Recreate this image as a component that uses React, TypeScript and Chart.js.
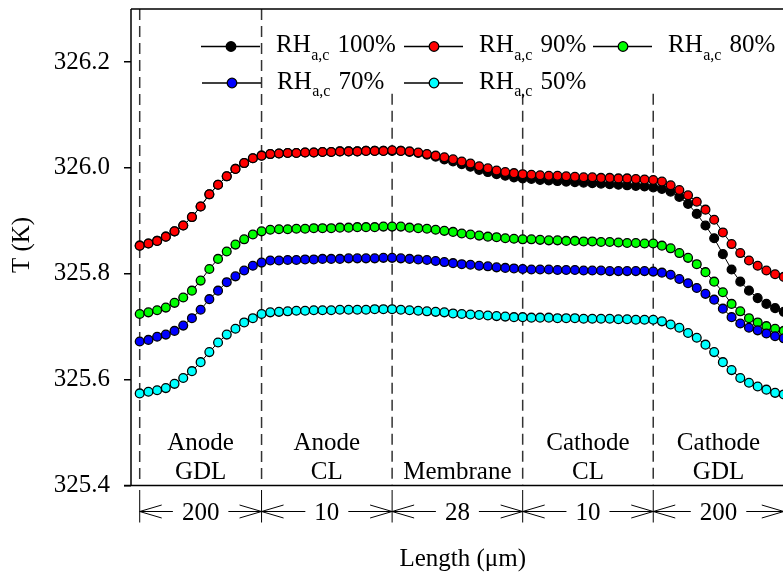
import { useEffect, useRef } from "react";
import { Chart, registerables } from "chart.js";

Chart.register(...registerables);

// Temperature profiles (K) across the MEA, sampled at evenly spaced positions
const rh100 = [
  325.853, 325.857, 325.862, 325.870, 325.880, 325.891, 325.907, 325.927, 325.950, 325.968,
  325.984, 325.998, 326.009, 326.018, 326.023, 326.026, 326.027, 326.028, 326.028, 326.029,
  326.029, 326.030, 326.030, 326.031, 326.031, 326.031, 326.032, 326.032, 326.032, 326.032,
  326.032, 326.030, 326.028, 326.025, 326.021, 326.016, 326.012, 326.007, 326.002, 325.996,
  325.992, 325.988, 325.985, 325.982, 325.980, 325.979, 325.977, 325.976, 325.975, 325.974,
  325.973, 325.972, 325.971, 325.970, 325.969, 325.968, 325.967, 325.966, 325.965, 325.963,
  325.960, 325.955, 325.945, 325.932, 325.913, 325.891, 325.867, 325.837, 325.808, 325.785,
  325.768, 325.754, 325.743, 325.735, 325.728,
];
const rh90 = [
  325.853, 325.857, 325.862, 325.870, 325.880, 325.891, 325.907, 325.927, 325.950, 325.968,
  325.984, 325.998, 326.009, 326.018, 326.023, 326.026, 326.027, 326.028, 326.028, 326.029,
  326.029, 326.030, 326.030, 326.031, 326.031, 326.031, 326.032, 326.032, 326.032, 326.033,
  326.032, 326.031, 326.029, 326.026, 326.023, 326.020, 326.016, 326.012, 326.008, 326.003,
  325.999, 325.995, 325.992, 325.990, 325.988, 325.987, 325.986, 325.985, 325.985, 325.984,
  325.983, 325.982, 325.982, 325.981, 325.981, 325.980, 325.980, 325.979, 325.978, 325.977,
  325.974, 325.967, 325.958, 325.948, 325.936, 325.921, 325.902, 325.878, 325.856, 325.839,
  325.825, 325.815, 325.806, 325.799, 325.794,
];
const rh80 = [
  325.724, 325.727, 325.731, 325.736, 325.745, 325.755, 325.768, 325.787, 325.809, 325.828,
  325.842, 325.855, 325.865, 325.874, 325.880, 325.883, 325.884, 325.884, 325.885, 325.885,
  325.886, 325.886, 325.886, 325.887, 325.887, 325.888, 325.888, 325.888, 325.889, 325.889,
  325.889, 325.887, 325.886, 325.885, 325.883, 325.881, 325.879, 325.876, 325.874, 325.872,
  325.870, 325.869, 325.867, 325.866, 325.865, 325.865, 325.864, 325.863, 325.863, 325.862,
  325.862, 325.861, 325.861, 325.860, 325.860, 325.859, 325.858, 325.858, 325.857, 325.857,
  325.853, 325.848, 325.839, 325.830, 325.818, 325.803, 325.785, 325.765, 325.743, 325.729,
  325.716, 325.708, 325.701, 325.696, 325.692,
];
const rh70 = [
  325.672, 325.675, 325.681, 325.685, 325.692, 325.702, 325.716, 325.732, 325.752, 325.768,
  325.784, 325.795, 325.806, 325.815, 325.821, 325.825, 325.825, 325.826, 325.826, 325.827,
  325.827, 325.828, 325.828, 325.828, 325.829, 325.829, 325.829, 325.829, 325.830, 325.830,
  325.829, 325.828, 325.827, 325.826, 325.824, 325.822, 325.820, 325.818, 325.817, 325.815,
  325.814, 325.812, 325.811, 325.810, 325.809, 325.808, 325.808, 325.808, 325.807, 325.807,
  325.807, 325.806, 325.806, 325.806, 325.805, 325.805, 325.805, 325.805, 325.805, 325.804,
  325.802, 325.798, 325.790, 325.782, 325.773, 325.762, 325.751, 325.734, 325.718, 325.706,
  325.698, 325.693, 325.687, 325.682, 325.678,
];
const rh50 = [
  325.574, 325.577, 325.580, 325.584, 325.592, 325.603, 325.616, 325.633, 325.652, 325.670,
  325.685, 325.696, 325.708, 325.716, 325.724, 325.727, 325.728, 325.729, 325.730, 325.730,
  325.731, 325.731, 325.731, 325.732, 325.732, 325.732, 325.732, 325.733, 325.733, 325.733,
  325.732, 325.731, 325.730, 325.729, 325.728, 325.727, 325.725, 325.724, 325.723, 325.722,
  325.721, 325.720, 325.719, 325.718, 325.718, 325.717, 325.717, 325.717, 325.716, 325.716,
  325.716, 325.715, 325.715, 325.715, 325.715, 325.714, 325.714, 325.713, 325.713, 325.713,
  325.710, 325.704, 325.698, 325.688, 325.679, 325.666, 325.652, 325.633, 325.618, 325.603,
  325.594, 325.587, 325.581, 325.575, 325.572,
];

const SERIES_VALUES = [rh100, rh90, rh80, rh70, rh50];
const SERIES_PERCENT = ["100%", "90%", "80%", "70%", "50%"];
const SERIES_COLORS = ["#000000", "#ff0000", "#00ff00", "#0000ff", "#00ffff"];

// Layer boundaries, expressed as sample indices along the profile
const LAYER_EDGES = [0, 14, 29, 44, 59, 74];
const LAYER_NAMES = [["Anode", "GDL"], ["Anode", "CL"], ["Membrane"], ["Cathode", "CL"], ["Cathode", "GDL"]];
const LAYER_THICKNESS = ["200", "10", "28", "10", "200"];

const Y_TICKS = [325.4, 325.6, 325.8, 326.0, 326.2];
const Y_MIN = 325.4;
const Y_MAX = 326.3;
const X_MIN = -1;
const X_MAX = 75;

const FONT = "'Liberation Serif', 'Times New Roman', Times, serif";
const FONT_SIZE = 25;
const DIVIDER_TOP = 326.14; // the inner dividers start below the legend

// legend slots: marker centre (px)
const LEGEND_SLOTS = [
  [231, 46.5],
  [434, 46.5],
  [623, 46.5],
  [232, 83],
  [434, 83],
];

const decorPlugin = {
  id: "mea-decor",
  beforeDatasetsDraw(chart: any) {
    const { ctx, chartArea: ca, scales } = chart;
    const xs = scales.x;
    const ys = scales.y;
    ctx.save();
    ctx.strokeStyle = "#333333";
    ctx.lineWidth = 1.5;
    ctx.setLineDash([11, 6]);
    LAYER_EDGES.forEach((e, k) => {
      const px = xs.getPixelForValue(e);
      const top = k < 2 ? ca.top : ys.getPixelForValue(DIVIDER_TOP);
      ctx.beginPath();
      ctx.moveTo(px, top);
      ctx.lineTo(px, ca.bottom);
      ctx.stroke();
    });
    ctx.restore();
  },
  afterDraw(chart: any) {
    const { ctx, chartArea: ca, scales } = chart;
    const xs = scales.x;
    const W = chart.width;
    ctx.save();
    ctx.setLineDash([]);

    // frame
    ctx.strokeStyle = "#000";
    ctx.lineWidth = 1.5;
    ctx.beginPath();
    ctx.moveTo(ca.left, ca.top);
    ctx.lineTo(W, ca.top);
    ctx.moveTo(ca.left, ca.top);
    ctx.lineTo(ca.left, ca.bottom);
    ctx.moveTo(ca.left - 7, ca.bottom);
    ctx.lineTo(W, ca.bottom);
    ctx.stroke();

    ctx.fillStyle = "#000";
    ctx.textAlign = "center";
    ctx.textBaseline = "alphabetic";
    ctx.font = `${FONT_SIZE}px ${FONT}`;

    const edgePx = LAYER_EDGES.map((e) => xs.getPixelForValue(e));

    // layer names inside the plot
    LAYER_NAMES.forEach((lines, k) => {
      const cx = (edgePx[k] + edgePx[k + 1]) / 2;
      const base = ca.bottom - 6.5;
      lines.forEach((t, j) => {
        ctx.fillText(t, cx, base - (lines.length - 1 - j) * 29);
      });
    });

    // thickness dimension lines below the axis
    const yA = ca.bottom + 26;
    ctx.lineWidth = 1;
    ctx.beginPath();
    edgePx.forEach((px) => {
      ctx.moveTo(px, ca.bottom + 4.5);
      ctx.lineTo(px, ca.bottom + 37);
    });
    ctx.stroke();
    LAYER_THICKNESS.forEach((t, k) => {
      const x0 = edgePx[k];
      const x1 = edgePx[k + 1];
      const cx = (x0 + x1) / 2;
      const w = ctx.measureText(t).width;
      const gap = 9;
      ctx.fillText(t, cx, yA + 8.5);
      ctx.beginPath();
      ctx.moveTo(x0, yA);
      ctx.lineTo(cx - w / 2 - gap, yA);
      ctx.moveTo(cx + w / 2 + gap, yA);
      ctx.lineTo(x1, yA);
      ctx.moveTo(x0 + 22, yA - 6.5);
      ctx.lineTo(x0, yA);
      ctx.lineTo(x0 + 22, yA + 6.5);
      ctx.moveTo(x1 - 22, yA - 6.5);
      ctx.lineTo(x1, yA);
      ctx.lineTo(x1 - 22, yA + 6.5);
      ctx.stroke();
    });

    // axis titles
    ctx.fillText("Length (\u03bcm)", (ca.left + ca.right) / 2 + 1, 566);
    ctx.save();
    ctx.translate(22, 245);
    ctx.rotate(-Math.PI / 2);
    ctx.textBaseline = "middle";
    ctx.fillText("T (K)", 0, 0);
    ctx.restore();

    // legend
    ctx.textAlign = "left";
    SERIES_PERCENT.forEach((pct, i) => {
      const [mx, my] = LEGEND_SLOTS[i];
      ctx.strokeStyle = "#000";
      ctx.lineWidth = 1.3;
      ctx.beginPath();
      ctx.moveTo(mx - 30, my);
      ctx.lineTo(mx + 29, my);
      ctx.stroke();
      ctx.beginPath();
      ctx.arc(mx, my, 4.8, 0, Math.PI * 2);
      ctx.fillStyle = SERIES_COLORS[i];
      ctx.fill();
      ctx.lineWidth = 1.3;
      ctx.stroke();

      ctx.fillStyle = "#000";
      let tx = mx + 45;
      ctx.font = `${FONT_SIZE}px ${FONT}`;
      ctx.fillText("RH", tx, my + 5.5);
      tx += ctx.measureText("RH").width + 0.5;
      ctx.font = `16px ${FONT}`;
      ctx.fillText("a,c", tx, my + 13);
      tx += ctx.measureText("a,c").width + 8;
      ctx.font = `${FONT_SIZE}px ${FONT}`;
      ctx.fillText(pct, tx, my + 5.5);
    });

    ctx.restore();
  },
};

export default function App() {
  const canvasRef = useRef<HTMLCanvasElement | null>(null);

  useEffect(() => {
    const canvas = canvasRef.current;
    if (!canvas) return;

    const datasets = SERIES_VALUES.map((values, i) => ({
      label: `RH ${SERIES_PERCENT[i]}`,
      data: values.map((v, j) => ({ x: j, y: v })),
      borderColor: "#000",
      borderWidth: 1,
      pointBackgroundColor: SERIES_COLORS[i],
      pointBorderColor: "#000",
      pointBorderWidth: 1.3,
      pointRadius: 4.4,
      pointHoverRadius: 4.4,
      tension: 0,
      fill: false,
      order: SERIES_VALUES.length - i,
    }));

    const chart = new Chart(canvas, {
      type: "line",
      data: { datasets },
      plugins: [decorPlugin],
      options: {
        animation: false,
        responsive: false,
        devicePixelRatio: 1,
        layout: { padding: { left: 0, top: 9, right: 7.5, bottom: 90.5 } },
        plugins: {
          legend: { display: false },
          tooltip: { enabled: false },
        },
        events: [],
        scales: {
          x: {
            type: "linear",
            display: false,
            min: X_MIN,
            max: X_MAX,
          },
          y: {
            type: "linear",
            min: Y_MIN,
            max: Y_MAX,
            afterBuildTicks: (axis: any) => {
              axis.ticks = Y_TICKS.map((v) => ({ value: v }));
            },
            afterFit: (axis: any) => {
              axis.width = 131;
              axis.paddingTop = 0;
              axis.paddingBottom = 0;
            },
            ticks: {
              color: "#000",
              padding: 14,
              font: { family: FONT, size: FONT_SIZE },
              callback: (v: any) => Number(v).toFixed(1),
            },
            grid: {
              display: true,
              drawOnChartArea: false,
              drawTicks: true,
              tickLength: 7,
              color: "#000",
              lineWidth: 1.5,
            },
            border: { display: false },
          },
        },
      } as any,
    });

    return () => chart.destroy();
  }, []);

  return (
    <div
      style={{
        position: "fixed",
        left: 0,
        top: 0,
        width: 783,
        height: 576,
        overflow: "hidden",
        background: "#fff",
      }}
    >
      <canvas ref={canvasRef} width={800} height={576} style={{ display: "block" }} />
    </div>
  );
}
